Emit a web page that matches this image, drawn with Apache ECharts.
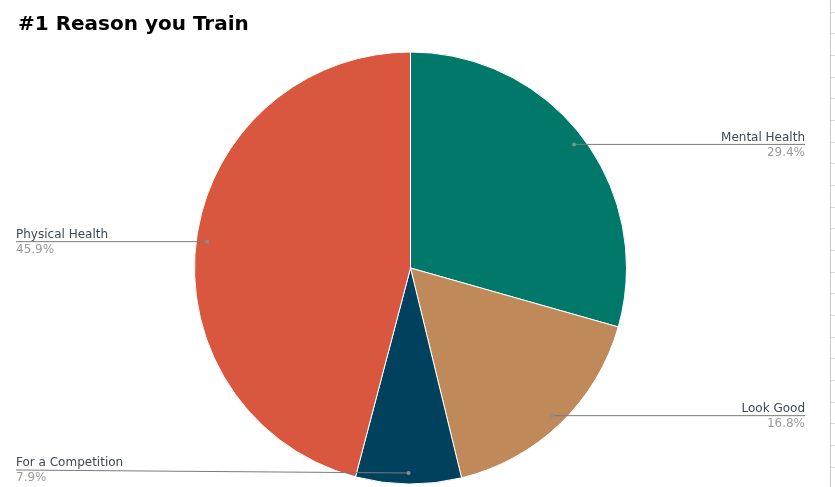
<!DOCTYPE html>
<html>
<head>
<meta charset="utf-8">
<script src="https://cdn.jsdelivr.net/npm/echarts@6/dist/echarts.min.js"></script>
<style>
html,body{margin:0;padding:0;background:#fff;}
#c{width:835px;height:487px;}
</style>
</head>
<body>
<div id="c"></div>
<script>
const titleText = '#1 Reason you Train';
const categories = ['Mental Health', 'Look Good', 'For a Competition', 'Physical Health'];
const values = [29.4, 16.8, 7.9, 45.9];
const colors = ['#00796b', '#c0895a', '#00425e', '#d9573e'];

const W = 835, H = 487;
const CX = 410.5, CY = 268, R = 216;
const DOT_R = 205;
const LEFT_EDGE = 16, RIGHT_EDGE = 805;

// label anchor points (dots) derived from the data along each slice's mid-angle
const total = values.reduce((a, b) => a + b, 0);
const dots = [];
(function () {
  let cum = 0;
  values.forEach(function (v) {
    const mid = (cum + v / 2) / total;
    cum += v;
    const th = (90 - 360 * mid) * Math.PI / 180;
    dots.push([CX + DOT_R * Math.cos(th), CY - DOT_R * Math.sin(th)]);
  });
})();

function graphics() {
  const g = [{
    type: 'line', silent: true,
    shape: {x1: 830.5, y1: 0, x2: 830.5, y2: H},
    style: {stroke: '#c8c8c8', lineWidth: 1}
  }];
  for (let y = 11.7; y < H; y += 21.67) {
    g.push({type: 'line', silent: true,
      shape: {x1: 831, y1: Math.round(y) + 0.5, x2: 835, y2: Math.round(y) + 0.5},
      style: {stroke: '#dcdcdc', lineWidth: 1}});
  }
  dots.forEach(function (d) {
    g.push({type: 'circle', silent: true, z: 100,
      shape: {cx: d[0], cy: d[1], r: 2},
      style: {fill: '#8c8c8c'}});
  });
  return g;
}

const pieData = categories.map((n, i) => ({name: n, value: values[i], itemStyle: {color: colors[i]}}));

const chart = echarts.init(document.getElementById('c'), null, {renderer: 'canvas'});
const option = {
  backgroundColor: '#fff',
  animation: false,
  title: {
    text: titleText, left: 13, top: 10,
    textStyle: {fontFamily: 'DejaVu Sans', fontSize: 20, fontWeight: 'bold', color: '#000'}
  },
  graphic: graphics(),
  series: [{
    type: 'pie',
    z: 2,
    center: [CX, CY],
    radius: R,
    startAngle: 90,
    clockwise: true,
    data: pieData,
    itemStyle: {borderColor: '#fff', borderWidth: 1},
    label: {show: false},
    labelLine: {show: false}
  }, {
    type: 'pie',
    z: 5,
    silent: true,
    center: [CX, CY],
    radius: R,
    startAngle: 90,
    clockwise: true,
    avoidLabelOverlap: false,
    data: categories.map((n, i) => ({name: n, value: values[i]})),
    itemStyle: {color: 'rgba(0,0,0,0)', borderWidth: 0},
    label: {
      formatter: '{n|{b}}\n{p|{c}%}',
      rich: {
        n: {fontFamily: 'DejaVu Sans', fontSize: 12, color: '#3d4852', lineHeight: 16},
        p: {fontFamily: 'DejaVu Sans', fontSize: 12, color: '#9a9a9a', lineHeight: 14}
      }
    },
    labelLine: {show: true, showAbove: true, length: 10, length2: 10, lineStyle: {color: '#7a7a7a', width: 1}},
    labelLayout: function (params) {
      const d = dots[params.dataIndex];
      if (!d) return {};
      const isLeft = d[0] < CX;
      const ex = isLeft ? LEFT_EDGE : RIGHT_EDGE;
      const ly = Math.min(d[1], 470);
      return {
        x: ex, y: ly,
        align: isLeft ? 'left' : 'right',
        verticalAlign: 'middle',
        labelLinePoints: [[d[0], d[1]], [d[0], d[1]], [ex, ly]]
      };
    }
  }]
};
chart.setOption(option);
</script>
</body>
</html>
